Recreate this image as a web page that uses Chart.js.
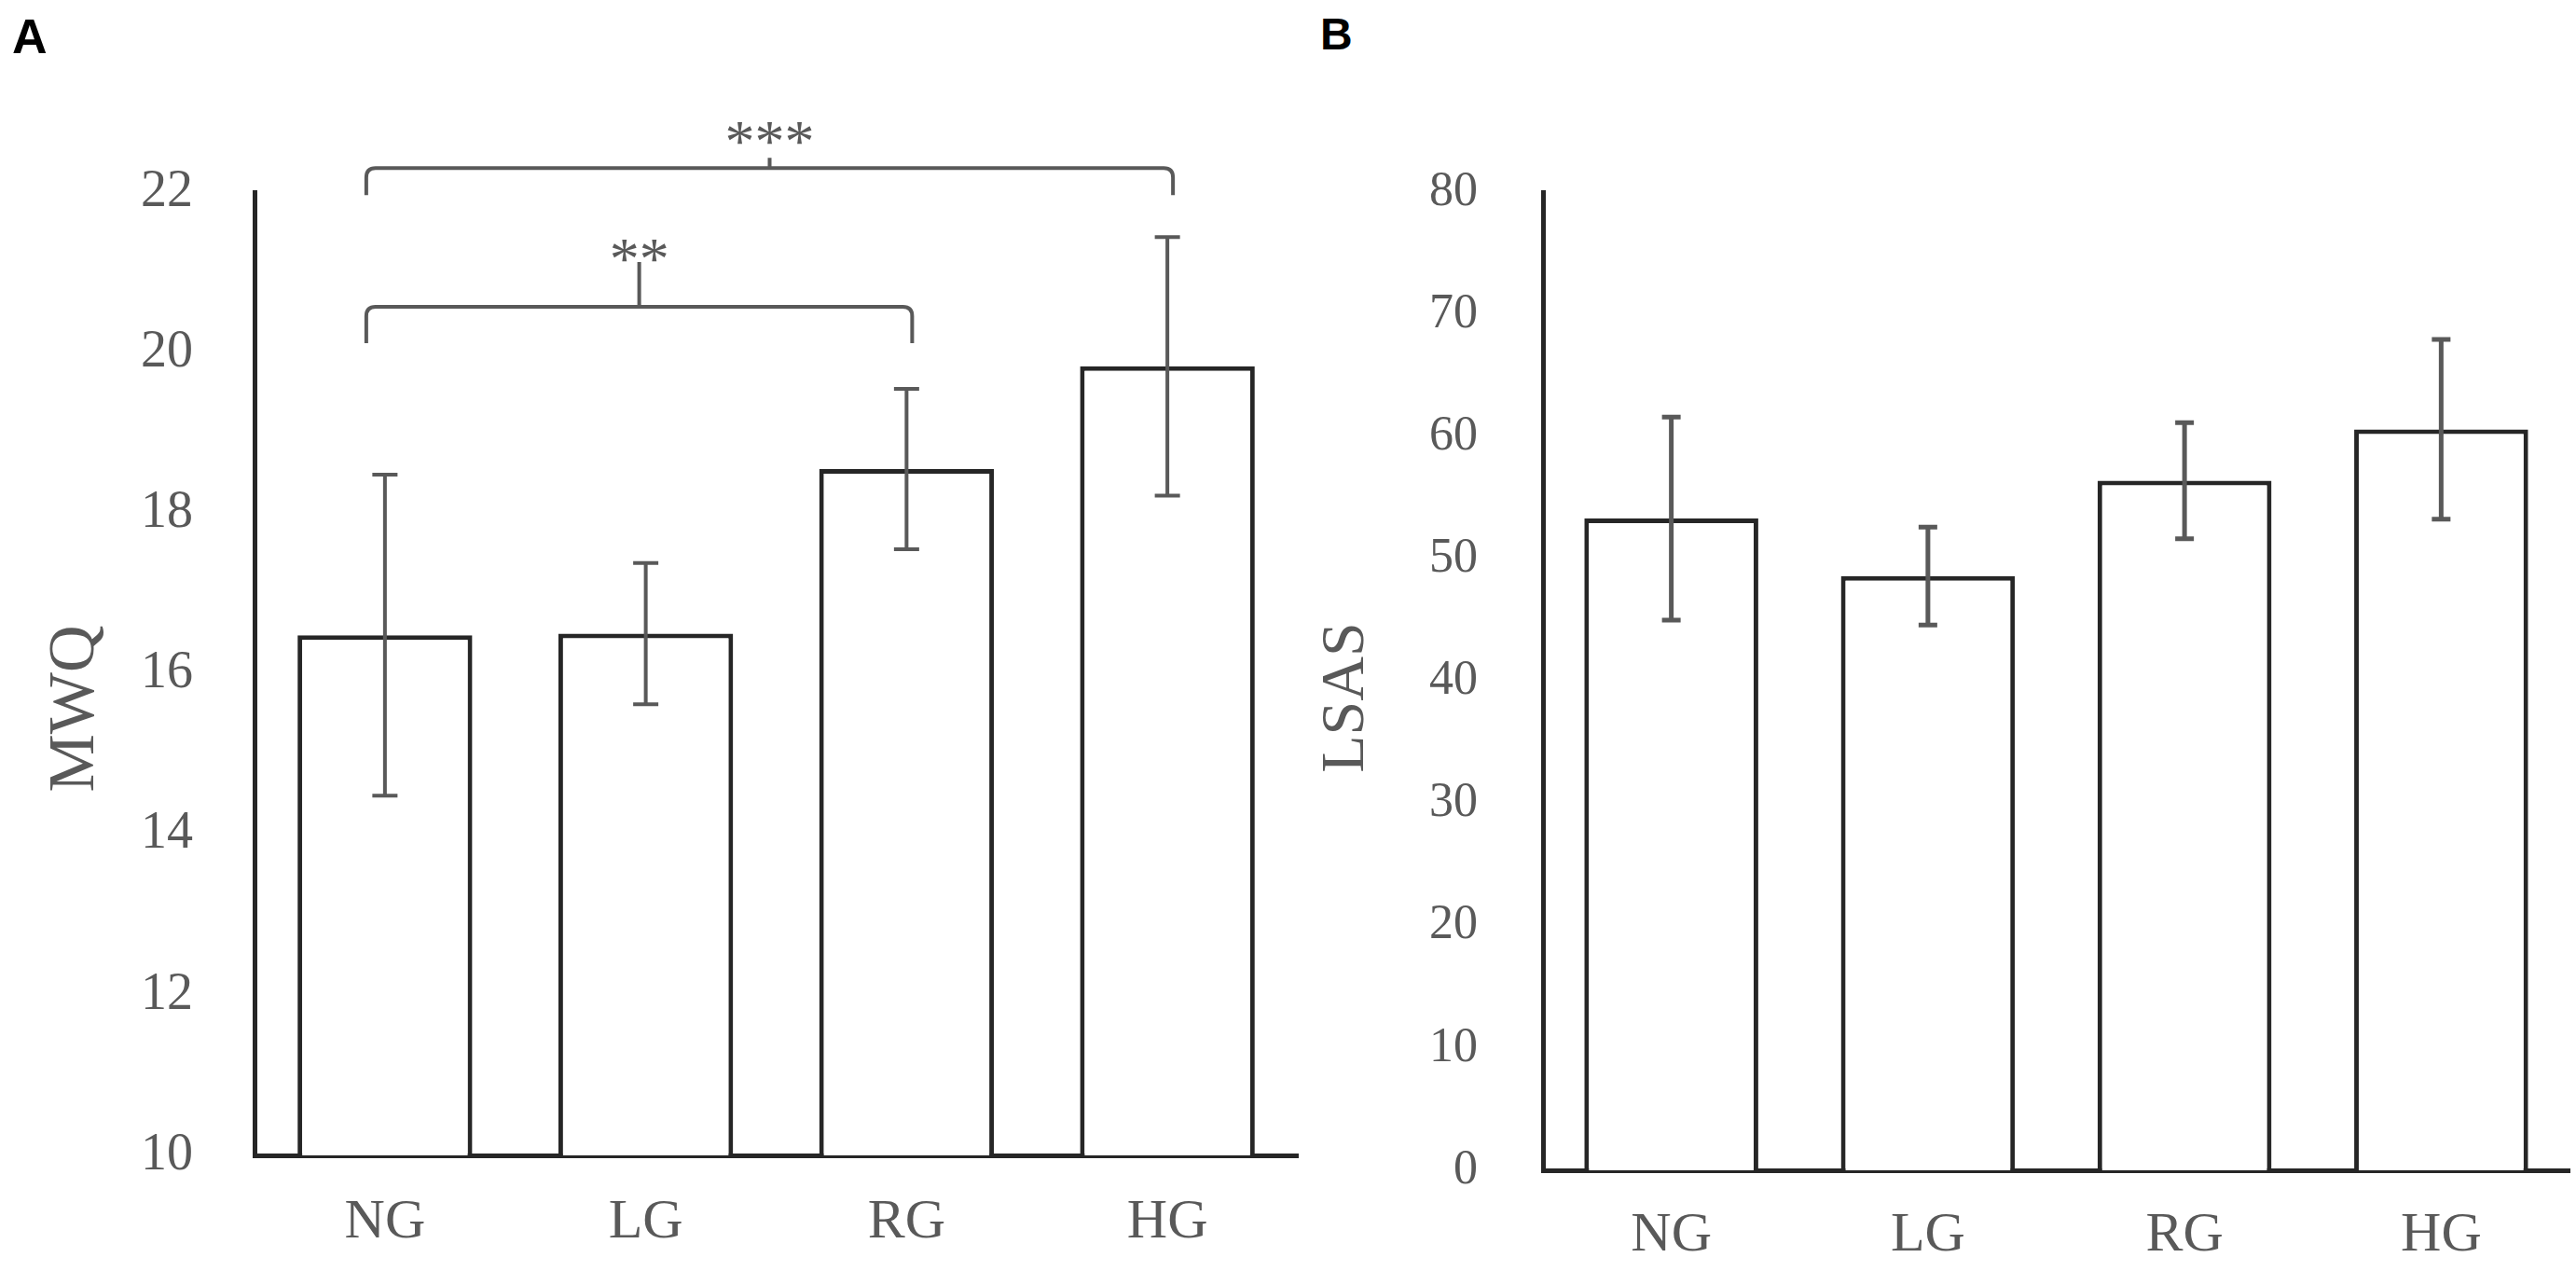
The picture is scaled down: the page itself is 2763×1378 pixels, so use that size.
<!DOCTYPE html>
<html>
<head>
<meta charset="utf-8">
<script src="https://cdn.jsdelivr.net/npm/chart.js@4.4.0/dist/chart.umd.min.js"></script>
<style>
body{margin:0;width:2763px;height:1378px;background:#fff;position:relative;overflow:hidden}
canvas{position:absolute;top:0}
#chartA{left:0}
#chartB{left:1400px}
.panel{position:absolute;font-family:"Liberation Sans",Arial,sans-serif;font-weight:bold;line-height:1;color:#000}
</style>
</head>
<body>
<div class="panel" style="left:13px;top:13px;font-size:52px">A</div>
<div class="panel" style="left:1416px;top:13px;font-size:48px">B</div>
<canvas id="chartA" width="1430" height="1378"></canvas>
<canvas id="chartB" width="1363" height="1378"></canvas>
<script>
// groups and values
const groups=['NG','LG','RG','HG'];
const mwqMeans=[16.48,16.5,18.55,19.83];
const mwqErrors=[2.0,0.88,1.0,1.61];
const lsasMeans=[53.3,48.6,56.4,60.6];
const lsasErrors=[8.3,4.0,4.75,7.35];
// significance brackets on panel A
const bracketFrom=[0,0];
const bracketTo=[3,2];
const bracketLevels=[22.3,20.57];
const bracketLabels=['***','**'];

const grey='#595959';
const dark='#262626';
const serif='"Liberation Serif","Times New Roman",serif';

//whiskers drawn on top of each bar
const errorBars={
  id:'errorBars',
  afterDatasetsDraw(chart,args,opts){
    const ctx=chart.ctx, y=chart.scales.y;
    const ds=chart.data.datasets[0];
    const meta=chart.getDatasetMeta(0);
    ctx.save();
    ctx.strokeStyle=opts.color;
    ctx.lineWidth=opts.width;
    meta.data.forEach((bar,i)=>{
      const top=y.getPixelForValue(ds.data[i]+ds.errors[i]);
      const bot=y.getPixelForValue(ds.data[i]-ds.errors[i]);
      const h=opts.cap/2;
      ctx.beginPath();
      ctx.moveTo(bar.x,top);ctx.lineTo(bar.x,bot);
      ctx.moveTo(bar.x-h,top);ctx.lineTo(bar.x+h,top);
      ctx.moveTo(bar.x-h,bot);ctx.lineTo(bar.x+h,bot);
      ctx.stroke();
    });
    ctx.restore();
  }
};

const brackets={
  id:'brackets',
  afterDraw(chart,args,opts){
    const ctx=chart.ctx, x=chart.scales.x, y=chart.scales.y;
    ctx.save();
    ctx.strokeStyle=grey;
    ctx.lineWidth=4;
    ctx.fillStyle=grey;
    ctx.font='64px '+serif;
    ctx.textAlign='center';
    ctx.textBaseline='alphabetic';
    bracketFrom.forEach((f,i)=>{
      const x1=x.getPixelForValue(f)-20;
      const x2=x.getPixelForValue(bracketTo[i])+6;
      const yl=y.getPixelForValue(bracketLevels[i]);
      const yd=yl+opts.drop[i];
      const xc=(x1+x2)/2;
      const r=10;
      ctx.beginPath();
      ctx.moveTo(x1,yd);
      ctx.lineTo(x1,yl+r);
      ctx.quadraticCurveTo(x1,yl,x1+r,yl);
      ctx.lineTo(x2-r,yl);
      ctx.quadraticCurveTo(x2,yl,x2,yl+r);
      ctx.lineTo(x2,yd);
      ctx.moveTo(xc,yl);
      ctx.lineTo(xc,yl-opts.rise[i]);
      ctx.stroke();
      ctx.fillText(bracketLabels[i],xc,yl-opts.lift[i]);
    });
    ctx.restore();
  }
};

// rotated y-axis title, placed a little below the axis middle like the original
const yTitle={
  id:'yTitle',
  afterDraw(chart,args,opts){
    const ctx=chart.ctx;
    ctx.save();
    ctx.translate(opts.x,opts.y);
    ctx.rotate(-Math.PI/2);
    ctx.fillStyle=grey;
    ctx.font=opts.size+'px '+serif;
    ctx.textAlign='center';
    ctx.textBaseline='middle';
    ctx.fillText(opts.text,0,0);
    ctx.restore();
  }
};

function makeChart(id,means,errors,cfg){
  return new Chart(document.getElementById(id).getContext('2d'),{
    type:'bar',
    data:{
      labels:groups,
      datasets:[{
        data:means,
        errors:errors,
        backgroundColor:'#ffffff',
        borderColor:dark,
        borderWidth:5,
        categoryPercentage:1,
        barPercentage:cfg.barPct
      }]
    },
    options:{
      responsive:false,
      animation:false,
      devicePixelRatio:1,
      layout:{padding:cfg.padding},
      plugins:{
        legend:{display:false},
        tooltip:{enabled:false},
        errorBars:{color:grey,width:cfg.errWidth,cap:cfg.cap},
        brackets:{drop:[29,39],rise:[11,48],lift:[7,30]},
        yTitle:cfg.yTitle
      },
      scales:{
        x:{
          grid:{display:false,drawTicks:false,tickLength:0},
          border:{display:true,color:dark,width:5},
          ticks:{color:grey,font:{family:serif,size:60},padding:cfg.xPad},
          afterFit:s=>{s.height=100;}
        },
        y:{
          min:cfg.min,max:cfg.max,
          grid:{display:false,drawTicks:false,tickLength:0},
          border:{display:true,color:dark,width:5},
          ticks:{stepSize:cfg.step,color:grey,font:{family:serif,size:cfg.tickSize},padding:cfg.yPad},
          afterFit:s=>{s.width=cfg.yWidth;}
        }
      }
    },
    plugins:cfg.plugins
  });
}

makeChart('chartA',mwqMeans,mwqErrors,{
  barPct:0.67,padding:{left:0,top:206,right:38,bottom:39},
  min:10,max:22,step:2,tickSize:56,yPad:66,xPad:36,
  yTitle:{text:'MWQ',size:70,x:82,y:760},yWidth:273,
  errWidth:4,cap:27,plugins:[errorBars,brackets,yTitle]
});

makeChart('chartB',lsasMeans,lsasErrors,{
  barPct:0.678,padding:{left:0,top:206,right:7,bottom:23},
  min:0,max:80,step:10,tickSize:52,yPad:70,xPad:34,
  yTitle:{text:'LSAS',size:66,x:45,y:748},yWidth:255,
  errWidth:5,cap:20,plugins:[errorBars,yTitle]
});
</script>
</body>
</html>
